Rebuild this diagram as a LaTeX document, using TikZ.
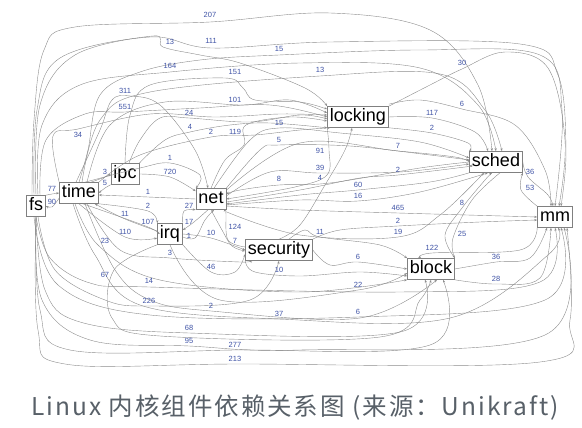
\documentclass[tikz,border=0pt]{standalone}
\usepackage{fontspec}
\setmainfont{Liberation Sans}
\newfontfamily\capfont[LetterSpace=8]{Noto Sans CJK SC}
\usetikzlibrary{arrows.meta}
\definecolor{wtblue}{RGB}{62,82,165}
\definecolor{capgray}{RGB}{88,96,104}

\begin{document}
\begin{tikzpicture}[x=1pt,y=-1pt,
    comp/.style={draw=black!50, fill=white, line width=0.6pt, font=\fontsize{18}{20}\selectfont,
      text height=12.5pt, text depth=3.5pt, inner xsep=2.5pt, inner ysep=2.5pt},
    wt/.style={text=wtblue, font=\fontsize{7.5}{8}\selectfont, inner sep=0pt},
    dep/.style={draw=black!45, line width=0.4pt, -{Stealth[length=3pt,width=2.2pt]}},
    caption/.style={text=capgray, font=\capfont\fontsize{24.5}{28}\selectfont}]
  \useasboundingbox (0,0) rectangle (582,428);

  % components
  \node[comp] (fs) at (36,206) {fs};
  \node[comp] (time) at (79,193) {time};
  \node[comp] (ipc) at (125,174) {ipc};
  \node[comp] (net) at (211,199) {net};
  \node[comp] (irq) at (170,234) {irq};
  \node[comp] (security) at (279,250) {security};
  \node[comp] (locking) at (358,117) {locking};
  \node[comp] (sched) at (496,162) {sched};
  \node[comp] (mm) at (555,217) {mm};
  \node[comp] (block) at (431,269) {block};

  % long arcs over the top
  \draw[dep] plot[smooth,tension=.6] coordinates {([xshift=-4pt]fs.north) (34,120) (44,50) (75,27) (210,22) (330,13) (430,30) (478,85) ([xshift=-4pt]sched.north)};
  \draw[dep] plot[smooth,tension=.6] coordinates {([xshift=-2pt]fs.north) (37,110) (60,58) (150,37) (211,48) (330,42) (520,44) (558,75) (566,150) ([xshift=6pt]mm.north)};
  \draw[dep] plot[smooth,tension=.6] coordinates {(fs.north) (40,105) (75,55) (153,36) (163,47) (200,55) (240,63) (305,88) (locking.north west)};
  \draw[dep] plot[smooth,tension=.6] coordinates {(time.north) (88,150) (100,95) (140,72) (200,60) (279,55) (420,50) (540,55) (562,110) (mm.north)};
  \draw[dep] plot[smooth,tension=.6] coordinates {([xshift=2pt]fs.north) (42,125) (80,85) (170,72) (300,63) (420,68) (478,105) (sched.north)};
  \draw[dep] plot[smooth,tension=.6] coordinates {(locking.north east) (430,85) (462,69) (505,52) (548,68) (565,140) ([xshift=4pt]mm.north)};
  \draw[dep] plot[smooth,tension=.6] coordinates {(ipc.north) (130,115) (150,85) (225,78) (243,88) (255,100) (300,102) ([yshift=-3pt]locking.north west)};
  \draw[dep] plot[smooth,tension=.6] coordinates {([xshift=3pt]time.north) (100,120) (150,92) (320,76) (440,74) (485,110) ([xshift=6pt]sched.north)};
  \draw[dep] plot[smooth,tension=.6] coordinates {([xshift=-3pt]time.north) (100,130) (112,100) (130,96) (160,105) (195,150) ([xshift=-3pt]net.north)};
  \draw[dep] plot[smooth,tension=.6] coordinates {([xshift=4pt]fs.north) (46,140) (85,114) (125,112) (200,108) (270,105) (locking.west)};
  \draw[dep] plot[smooth,tension=.6] coordinates {(time.north west) (53,136) (78,129) (150,114) (215,117) (280,114) ([yshift=2pt]locking.west)};
  \draw[dep] plot[smooth,tension=.6] coordinates {([xshift=8pt]time.north) (110,125) (165,102) (243,105) (290,100) ([yshift=4pt]locking.west)};

  % towards locking
  \draw[dep] plot[smooth,tension=.6] coordinates {([xshift=4pt]ipc.north) (140,140) (160,118) (189,118) (250,122) (300,115) ([yshift=-2pt]locking.west)};
  \draw[dep] plot[smooth,tension=.6] coordinates {(ipc.north east) (165,140) (190,132) (230,125) (270,123) (locking.south west)};
  \draw[dep] plot[smooth,tension=.6] coordinates {(time.north east) (140,155) (211,137) (255,135) (300,130) ([xshift=3pt]locking.south west)};
  \draw[dep] plot[smooth,tension=.6] coordinates {(net.north) (225,160) (244,145) (246,125) (290,117) ([yshift=-4pt]locking.west)};
  \draw[dep] plot[smooth,tension=.6] coordinates {(locking.south west) (329,150) (327,175) (295,187) (net.east)};
  \draw[dep] plot[smooth,tension=.6] coordinates {(security.north) (300,225) (325,185) (345,150) ([xshift=-6pt]locking.south)};

  % towards sched
  \draw[dep] plot[smooth,tension=.6] coordinates {([xshift=3pt]net.north) (250,140) (279,128) (340,133) (420,142) ([yshift=4pt]sched.west)};
  \draw[dep] plot[smooth,tension=.6] coordinates {(net.north east) (260,150) (279,145) (350,146) (430,155) ([yshift=2pt]sched.west)};
  \draw[dep] plot[smooth,tension=.6] coordinates {([yshift=2pt]locking.north east) (420,100) (462,109) (515,125) (545,170) ([xshift=-4pt]mm.north)};
  \draw[dep] plot[smooth,tension=.6] coordinates {(locking.east) (432,118) (475,132) ([xshift=-8pt]sched.north)};
  \draw[dep] plot[smooth,tension=.6] coordinates {(locking.south east) (432,133) (468,143) (sched.north west)};
  \draw[dep] plot[smooth,tension=.6] coordinates {([yshift=-2pt]net.north east) (300,143) (398,151) (455,157) (sched.west)};
  \draw[dep] plot[smooth,tension=.6] coordinates {([yshift=3pt]net.east) (270,172) (320,173) (400,172) ([yshift=-2pt]sched.west)};
  \draw[dep] plot[smooth,tension=.6] coordinates {(sched.west) (420,168) (330,183) (279,185) (240,190) ([yshift=5pt]net.east)};
  \draw[dep] plot[smooth,tension=.6] coordinates {([yshift=-3pt]net.east) (300,190) (360,178) (398,175) (465,167) ([yshift=-4pt]sched.west)};
  \draw[dep] plot[smooth,tension=.6] coordinates {(sched.south west) (430,182) (358,190) (300,195) ([yshift=-5pt]net.east)};
  \draw[dep] plot[smooth,tension=.6] coordinates {([yshift=-6pt]net.east) (300,200) (358,201) (420,192) ([xshift=-8pt]sched.south)};
  \draw[dep] plot[smooth,tension=.6] coordinates {(block.north east) (445,235) (462,208) (485,180) ([xshift=-4pt]sched.south)};
  \draw[dep] plot[smooth,tension=.6] coordinates {([yshift=-2pt]net.south east) (300,235) (398,237) (440,215) ([xshift=-12pt]sched.south)};
  \draw[dep] plot[smooth,tension=.6] coordinates {([xshift=4pt]sched.south) (472,200) (453,238) (block.north east)};

  % sched, mm and block
  \draw[dep] plot[smooth,tension=.6] coordinates {(sched.east) (528,177) (548,195) ([xshift=-2pt]mm.north)};
  \draw[dep] plot[smooth,tension=.6] coordinates {(mm.north west) (521,190) (sched.south east)};
  \draw[dep] plot[smooth,tension=.6] coordinates {([yshift=-7pt]net.east) (300,210) (398,213) (mm.west)};
  \draw[dep] plot[smooth,tension=.6] coordinates {(security.north east) (340,230) (398,226) (480,222) ([yshift=-3pt]mm.west)};
  \draw[dep] plot[smooth,tension=.6] coordinates {(mm.south west) (520,250) (432,253) ([xshift=-10pt]block.north)};
  \draw[dep] plot[smooth,tension=.6] coordinates {(block.east) (496,262) (530,258) ([xshift=-8pt]mm.south)};
  \draw[dep] plot[smooth,tension=.6] coordinates {(block.south east) (496,284) (540,278) ([xshift=-4pt]mm.south)};

  % security and block
  \draw[dep] plot[smooth,tension=.6] coordinates {([xshift=10pt]security.north) (305,230) (320,237) (380,245) (block.north west)};
  \draw[dep] plot[smooth,tension=.6] coordinates {(security.east) (330,265) (358,262) (block.west)};
  \draw[dep] plot[smooth,tension=.6] coordinates {(irq.south) (220,300) (358,290) ([yshift=-4pt]block.west)};
  \draw[dep] plot[smooth,tension=.6] coordinates {(security.south west) (255,272) (300,276) (360,272) ([yshift=-7pt]block.west)};
  \draw[dep] plot[smooth,tension=.6] coordinates {(irq.south east) (211,272) (235,272) ([yshift=-4pt]security.west)};
  \draw[dep] plot[smooth,tension=.6] coordinates {(irq.east) (211,238) (security.west)};
  \draw[dep] plot[smooth,tension=.6] coordinates {([yshift=3pt]security.west) (228,240) (226,215) (net.south east)};
  \draw[dep] plot[smooth,tension=.6] coordinates {(net.south) (222,230) (232,246) ([yshift=-1pt]security.west)};

  % around time, ipc, irq and net
  \draw[dep] plot[smooth,tension=.6] coordinates {(irq.north east) (184,211) (net.south west)};
  \draw[dep] plot[smooth,tension=.6] coordinates {([xshift=-3pt]net.south) (194,222) ([yshift=4pt]irq.east)};
  \draw[dep] plot[smooth,tension=.6] coordinates {([yshift=-3pt]irq.east) (195,238) (205,220) ([xshift=3pt]net.south)};
  \draw[dep] plot[smooth,tension=.6] coordinates {([xshift=6pt]time.north) (140,168) (170,163) (200,175) (net.north west)};
  \draw[dep] plot[smooth,tension=.6] coordinates {(ipc.east) (170,177) ([yshift=-3pt]net.north west)};
  \draw[dep] plot[smooth,tension=.6] coordinates {([xshift=12pt]time.north) (105,177) (ipc.west)};
  \draw[dep] plot[smooth,tension=.6] coordinates {(ipc.south west) (105,188) (time.east)};
  \draw[dep] plot[smooth,tension=.6] coordinates {(fs.north east) (52,194) (time.west)};
  \draw[dep] plot[smooth,tension=.6] coordinates {([yshift=-5pt]time.west) (52,207) (fs.east)};
  \draw[dep] plot[smooth,tension=.6] coordinates {(net.west) (148,197) ([yshift=-2pt]time.east)};
  \draw[dep] plot[smooth,tension=.6] coordinates {(time.south east) (148,211) (irq.north west)};
  \draw[dep] plot[smooth,tension=.6] coordinates {([yshift=3pt]irq.west) (125,219) ([xshift=-4pt]time.south east)};
  \draw[dep] plot[smooth,tension=.6] coordinates {([xshift=4pt]time.south) (148,227) (irq.west)};
  \draw[dep] plot[smooth,tension=.6] coordinates {(time.south) (125,237) ([yshift=-4pt]irq.west)};

  % lower part
  \draw[dep] plot[smooth,tension=.6] coordinates {([xshift=-4pt]time.south) (99,246) (160,280) (300,292) (block.south west)};
  \draw[dep] plot[smooth,tension=.6] coordinates {([xshift=8pt]time.south) (120,250) (170,258) (240,262) ([xshift=4pt]security.south west)};
  \draw[dep] plot[smooth,tension=.6] coordinates {(irq.south west) (114,270) (112,318) (160,336) (380,337) (420,300) (block.south)};
  \draw[dep] plot[smooth,tension=.6] coordinates {(fs.south) (50,258) (90,283) (149,287) (400,292) (540,282) (mm.south)};
  \draw[dep] plot[smooth,tension=.6] coordinates {([xshift=2pt]fs.south) (55,270) (105,300) (149,306) (250,300) (security.south)};
  \draw[dep] plot[smooth,tension=.6] coordinates {([xshift=6pt]time.south) (115,270) (150,300) (211,311) (360,318) ([xshift=6pt]block.south)};
  \draw[dep] plot[smooth,tension=.6] coordinates {([xshift=-6pt]time.south) (95,255) (140,305) (279,319) (450,318) (548,255) ([xshift=3pt]mm.south)};
  \draw[dep] plot[smooth,tension=.6] coordinates {([xshift=-2pt]fs.south) (58,285) (150,315) (358,317) (545,300) ([xshift=6pt]mm.south)};
  \draw[dep] plot[smooth,tension=.6] coordinates {(fs.south) (45,290) (80,322) (189,333) (400,332) ([xshift=-6pt]block.south)};
  \draw[dep] plot[smooth,tension=.6] coordinates {(fs.south) (42,300) (90,340) (189,346) (300,350) (545,335) ([xshift=9pt]mm.south)};
  \draw[dep] plot[smooth,tension=.6] coordinates {(fs.south) (40,310) (70,350) (235,350) (430,345) ([xshift=12pt]block.south)};
  \draw[dep] plot[smooth,tension=.6] coordinates {(fs.south) (38,330) (65,364) (235,364) (540,362) (570,320) ([xshift=12pt]mm.south)};

  % weights
  \foreach \w/\x/\y [count=\i] in {
      207/210/15, 13/170/42, 111/211/41, 15/279/49, 164/170/66, 151/235/72, 13/320/70, 30/462/63,
      311/125/91, 551/125/107, 24/189/113, 101/235/100, 34/78/135, 4/190/127, 2/211/132, 119/235/132,
      15/279/123, 5/279/140, 6/462/104, 117/432/113, 2/432/128, 7/398/146,
      91/320/151, 39/320/168, 4/320/178, 8/279/179, 2/398/170, 36/530/172, 53/530/188,
      60/358/185, 16/358/196, 465/398/208, 8/462/203, 2/398/221, 19/398/232,
      1/170/158, 720/170/172, 3/105/172, 5/105/183, 77/52/189, 90/52/202, 1/148/192,
      2/148/206, 11/125/214, 107/148/222, 110/125/232, 27/189/206, 17/189/222, 1/189/236,
      10/211/233, 124/235/227, 7/235/241, 11/320/232, 25/462/234, 122/432/248,
      23/105/241, 3/170/253, 6/358/257, 36/496/257, 46/211/267, 10/279/270, 67/105/275,
      14/149/281, 22/358/285, 28/496/279, 226/149/301, 2/211/306, 37/279/314, 6/358/312,
      68/189/328, 95/189/341, 277/235/345, 213/235/359}
    \node[wt] (w\i) at (\x,\y) {\w};

  \node[caption] (title) at (295,408) {Linux 内核组件依赖关系图 (来源：Unikraft)};
\end{tikzpicture}
\end{document}
